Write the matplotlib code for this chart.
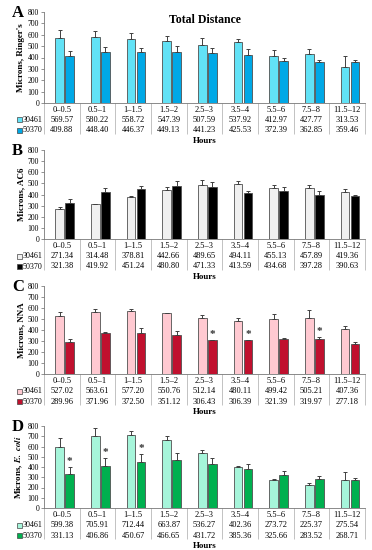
import numpy as np
import matplotlib
matplotlib.use("Agg")
import matplotlib.pyplot as plt
from matplotlib.patches import Rectangle

plt.rcParams['font.family'] = ['Liberation Serif', 'DejaVu Serif']
plt.rcParams['mathtext.fontset'] = 'stix'

# categories (time bins)
hours = ["0\u20130.5", "0.5\u20131", "1\u20131.5", "1.5\u20132", "2.5\u20133",
         "3.5\u20134", "5.5\u20136", "7.5\u20138", "11.5\u201312"]

# A - Ringer's
a_30461 = [569.57, 580.22, 558.72, 547.39, 507.59, 537.92, 412.97, 427.77, 313.53]
a_50370 = [409.88, 448.40, 446.37, 449.13, 441.23, 425.53, 372.39, 362.85, 359.46]
a_err1 = [70, 50, 53, 41, 60, 24, 49, 46, 98]
a_err2 = [50, 42, 34, 49, 42, 48, 23, 19, 19]

# B - AC6
b_30461 = [271.34, 314.48, 378.81, 442.66, 489.65, 494.11, 455.13, 457.89, 419.36]
b_50370 = [321.38, 419.92, 451.24, 480.80, 471.33, 413.59, 434.68, 397.28, 390.63]
b_err1 = [14, 4, 9, 25, 38, 28, 27, 30, 29]
b_err2 = [41, 42, 29, 39, 41, 18, 30, 31, 7]

# C - NNA
c_30461 = [527.02, 563.61, 577.20, 550.76, 512.14, 480.11, 499.42, 505.21, 407.36]
c_50370 = [289.96, 371.96, 372.50, 351.12, 306.43, 306.39, 321.39, 319.97, 277.18]
c_err1 = [35, 28, 18, 7, 28, 25, 49, 73, 25]
c_err2 = [25, 6, 45, 42, 4, 4, 5, 13, 13]
c_star = [4, 5, 7]

# D - E. coli
d_30461 = [599.38, 705.91, 712.44, 663.87, 536.27, 402.36, 273.72, 225.37, 275.54]
d_50370 = [331.13, 406.86, 450.67, 466.65, 431.72, 385.36, 325.66, 283.52, 268.71]
d_err1 = [86, 72, 43, 41, 32, 6, 8, 17, 74]
d_err2 = [67, 83, 74, 73, 58, 45, 32, 26, 23]
d_star = [0, 1, 2]

W, H = 372, 550
fig = plt.figure(figsize=(W / 100, H / 100), dpi=100)

def px_axes(left, top, right, bottom):
    return fig.add_axes([left / W, 1 - bottom / H, (right - left) / W, (bottom - top) / H])

def panel(top, bottom, letter, ylab, v1, v2, e1, e2, col1, col2, stars=(), title=None):
    ax = px_axes(44, top, 365, bottom)
    x = np.arange(len(hours))
    bw = 0.24
    ekw = dict(ecolor="#404040", elinewidth=0.7, capsize=1.6, capthick=0.7)
    ax.bar(x - 0.06, v1, bw, color=col1, edgecolor="#505050", linewidth=0.6,
           yerr=[np.zeros(len(e1)), e1], error_kw=ekw)
    ax.bar(x + 0.22, v2, bw, color=col2, edgecolor="#505050", linewidth=0.6,
           yerr=[np.zeros(len(e2)), e2], error_kw=ekw)
    for i in stars:
        ax.text(i + 0.22, v2[i] + e2[i] + 8, "*", ha="center", va="bottom",
                fontsize=8, fontweight="bold", color="#333333")
    ax.set_xlim(-0.5, len(hours) - 0.5)
    ax.set_ylim(0, 800)
    ax.set_yticks(range(0, 801, 100))
    ax.tick_params(axis="y", labelsize=5.5, length=2, width=0.5, pad=1.5, color="#666666")
    ax.set_xticks([])
    for s in ["top", "right"]:
        ax.spines[s].set_visible(False)
    for s in ["left", "bottom"]:
        ax.spines[s].set_color("#777777")
        ax.spines[s].set_linewidth(0.6)
    ax.set_ylabel(ylab, fontsize=6.5, fontweight="bold", labelpad=2)
    if title:
        ax.set_title(title, fontsize=8.5, fontweight="bold", pad=-8, y=1.0)

    # data table below the axis
    hpx = bottom - top
    def dy(p):
        return -p / hpx
    tr = ax.get_xaxis_transform()
    ax.vlines(np.arange(len(hours) + 1) - 0.5, dy(31), 0, transform=tr,
              colors="#aaaaaa", linewidth=0.5, clip_on=False)
    for i, lab in enumerate(hours):
        ax.text(i, dy(7), lab, transform=tr, ha="center", va="center", fontsize=6)
        ax.text(i, dy(17), "%.2f" % v1[i], transform=tr, ha="center", va="center", fontsize=6)
        ax.text(i, dy(27.5), "%.2f" % v2[i], transform=tr, ha="center", va="center", fontsize=6)
    for yy, name, c in [(17, "30461", col1), (27.5, "50370", col2)]:
        fig.patches.append(Rectangle((17 / W, 1 - (bottom + yy + 2.5) / H), 5 / W, 5 / H,
                                     facecolor=c, edgecolor="#444444", linewidth=0.5,
                                     transform=fig.transFigure))
        fig.text(23 / W, 1 - (bottom + yy) / H, name, ha="left", va="center", fontsize=5.8)
    ax.text(len(hours) / 2 - 0.5, dy(38), "Hours", transform=tr, ha="center", va="center",
            fontsize=6.5, fontweight="bold")
    fig.text(12 / W, 1 - (top + 1) / H, letter, fontsize=12, fontweight="bold", va="center")
    return ax

panel(12, 103, "A", "Microns, Ringer's", a_30461, a_50370, a_err1, a_err2,
      "#62E2F6", "#00A8E6", title="Total Distance")
panel(150, 239, "B", "Microns, AC6", b_30461, b_50370, b_err1, b_err2,
      "#F0F0F0", "#000000")
panel(286, 374, "C", "Microns, NNA", c_30461, c_50370, c_err1, c_err2,
      "#FFC9D1", "#C0102E", stars=c_star)
panel(426, 508, "D", r"Microns, $\mathbfit{E.\ coli}$", d_30461, d_50370, d_err1, d_err2,
      "#A6F5DA", "#00B04F", stars=d_star)

fig.savefig("out.png", dpi=100)
